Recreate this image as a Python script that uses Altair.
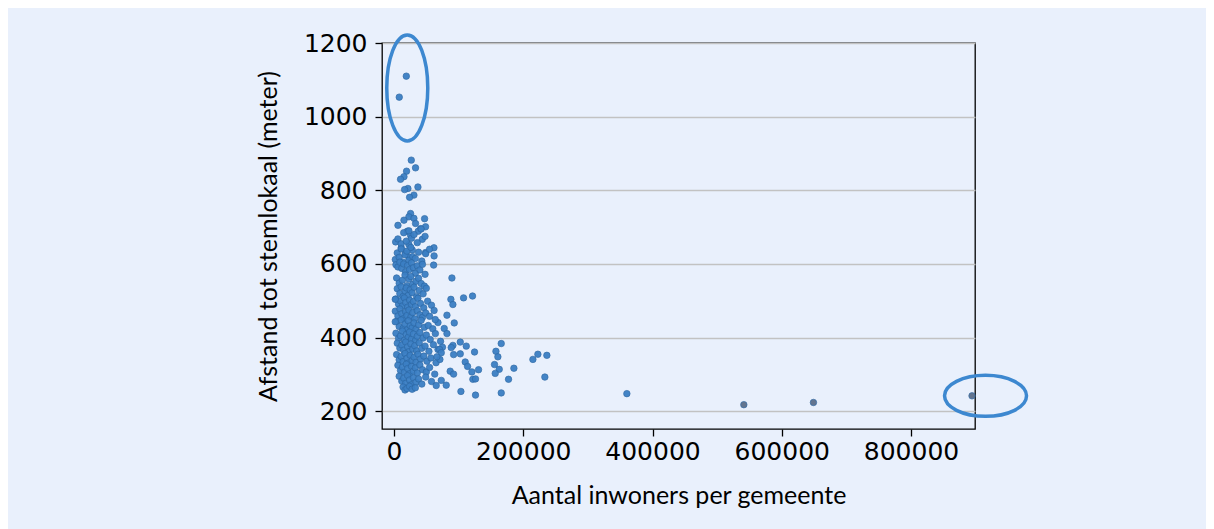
import altair as alt
import pandas as pd

# population (inhabitants) and distance to polling station (meter)
pop_k = [
    # outliers top
    8.1, 19.0,
    # upper scattered
    26.7, 33.3, 19.4, 15.4, 10.1, 37.0, 21.5, 16.4, 30.8, 24.1,
    25.6, 23.0, 30.8, 47.3, 15.4, 33.3, 6.1, 48.8, 41.1, 20.5, 37.5, 25.6,
    2.5, 43.7, 23.0, 11.2, 61.8, 28.2, 48.8, 17.9, 23.0,
    # band 650-700
    6, 11, 15, 19, 23, 27, 31, 36, 42, 48,
    # band 600-650
    2, 5, 8, 11, 14, 17, 20, 23, 26, 29, 33, 38, 43, 49, 55, 62,
    # band 570-600
    3, 6, 9, 12, 15, 18, 21, 24, 27, 30, 33, 36, 40, 44, 48,
    # band 540-570
    4, 8, 13, 17, 20, 23, 26, 29, 34, 38, 42, 47,
    # band 510-540
    5, 9, 11, 14, 17, 19, 22, 25, 28, 31, 35, 39, 45, 50,
    # band 480-510
    3, 7, 10, 13, 16, 18, 21, 24, 27, 30, 33, 37, 41, 46, 52, 58,
    # band 450-480
    2, 6, 9, 12, 15, 18, 20, 23, 26, 29, 32, 36, 40, 44, 49, 55, 62,
    # band 420-450
    4, 8, 11, 14, 17, 20, 22, 25, 28, 31, 34, 38, 42, 47, 53, 60, 68,
    # band 390-420
    3, 7, 10, 13, 16, 19, 22, 24, 27, 30, 33, 36, 40, 45, 50, 56, 64, 72,
    # band 360-390
    5, 9, 12, 15, 18, 21, 23, 26, 29, 32, 35, 39, 43, 48, 54, 61, 68, 75,
    # band 330-360
    4, 8, 11, 14, 17, 20, 22, 25, 28, 31, 34, 37, 41, 46, 51, 57, 65, 71,
    # band 300-330
    6, 10, 13, 16, 19, 21, 24, 27, 30, 33, 36, 40, 44, 50, 55, 63,
    # band 270-300
    8, 12, 15, 18, 21, 24, 27, 30, 34, 38, 43, 49, 58,
    # band 255-270
    14, 17, 20, 24, 28, 33,
    # scattered right of the core
    61.3, 89.6, 1.9, 88.0, 91.1, 107.6, 121.5, 1.9, 81.9, 93.2, 63.8, 77.7, 81.9,
    102.5, 91.1, 88.5, 111.8, 165.9, 92.2, 102.5, 124.6, 157.7, 160.7, 214.9,
    222.6, 236.5, 70.5, 73.1, 66.4, 110.2, 113.8, 86.9, 92.2, 130.8, 120.5,
    155.5, 162.8, 156.6, 185.5, 122.0, 126.1, 177.2, 233.4, 73.1, 65.3, 80.8,
    103.5, 126.1, 165.9,
    # large municipalities
    360.3, 541.3, 649.0, 894.4,
]
dist = [
    1053, 1110,
    882, 861, 852, 837, 830, 809, 805, 802, 787, 781,
    737, 728, 724, 723, 719, 710, 705, 701, 696, 689, 689, 678,
    660, 667, 653, 644, 644, 638, 631, 629, 619,
    668, 655, 685, 662, 690, 670, 680, 658, 695, 675,
    612, 630, 618, 641, 605, 625, 635, 610, 645, 620, 615, 632, 608, 628, 640, 622,
    598, 592, 605, 588, 600, 579, 596, 585, 603, 590, 575, 595, 584, 599, 572,
    562, 548, 556, 570, 541, 559, 566, 545, 553, 561, 547, 540,
    533, 520, 538, 512, 527, 535, 515, 530, 522, 537, 511, 528, 519, 534,
    505, 491, 500, 486, 508, 495, 483, 502, 490, 498, 484, 507, 493, 481, 499, 488,
    472, 459, 478, 465, 452, 470, 460, 475, 456, 468, 451, 473, 462, 455, 467, 458, 474,
    444, 430, 448, 425, 437, 421, 446, 432, 427, 440, 423, 435, 447, 428, 433, 424, 441,
    412, 398, 405, 418, 393, 409, 401, 415, 396, 410, 392, 404, 414, 399, 407, 395, 411, 390,
    385, 372, 380, 366, 388, 375, 362, 383, 369, 378, 364, 386, 371, 377, 363, 381, 368, 374,
    354, 340, 349, 335, 357, 344, 331, 352, 338, 347, 333, 355, 342, 350, 336, 345, 332, 341,
    325, 311, 320, 306, 328, 316, 302, 322, 309, 318, 304, 326, 313, 307, 319, 301,
    295, 282, 290, 276, 297, 285, 272, 291, 279, 288, 274, 293, 281,
    266, 258, 262, 268, 260, 264,
    597, 562, 504, 504, 490, 508, 513, 443, 461, 440, 449, 425, 411,
    388, 379, 373, 377, 384, 354, 356, 361, 363, 348, 341,
    355, 352, 368, 359, 348, 334, 322, 309, 301, 313, 307,
    327, 314, 303, 317, 287, 288, 287, 293, 284, 270, 271,
    254, 244, 250,
    248, 218, 224, 242,
]
groot = {541.3, 649.0, 894.4}
groep = ["groot" if p in groot else "klein" for p in pop_k]

x_ticks = [0, 200000, 400000, 600000, 800000]
y_ticks = [200, 400, 600, 800, 1000, 1200]

df = pd.DataFrame({
    "inwoners": [round(p * 1000) for p in pop_k],
    "afstand": dist,
    "groep": groep,
})

# annotation ellipses (centre in data units)
ell = pd.DataFrame({
    "inwoners": [20500, 915300],
    "afstand": [1078, 242],
    "vorm": ["staand", "liggend"],
})

BG = "#E9F0FC"
xscale = alt.Scale(domain=[-18600, 899000], nice=False, zero=False)
yscale = alt.Scale(domain=[152, 1200], nice=False, zero=False)

xenc = alt.X("inwoners:Q", scale=xscale,
             axis=alt.Axis(title="Aantal inwoners per gemeente", values=x_ticks,
                           format="d", grid=False, titleY=66,
                           titleBaseline="middle"))
yenc = alt.Y("afstand:Q", scale=yscale,
             axis=alt.Axis(title="Afstand tot stemlokaal (meter)", values=y_ticks,
                           format="d", grid=True, titleX=-114, titleY=193,
                           titleAngle=270, titleAlign="center",
                           titleBaseline="middle"))

points = alt.Chart(df).mark_circle(size=42, opacity=0.95, stroke="#2c67a3",
                                   strokeWidth=0.7).encode(
    x=xenc,
    y=yenc,
    color=alt.Color("groep:N", scale=alt.Scale(domain=["klein", "groot"],
                                               range=["#3b7fc4", "#5d6f8a"]),
                    legend=None),
)

p_staand = "M -0.387 0 A 0.387 1 0 1 0 0.387 0 A 0.387 1 0 1 0 -0.387 0 Z"
p_liggend = "M -1 0 A 1 0.5 0 1 0 1 0 A 1 0.5 0 1 0 -1 0 Z"

e1 = alt.Chart(ell[ell.vorm == "staand"]).mark_point(
    shape=p_staand, size=11236, filled=False, stroke="#3d88d0", strokeWidth=3.5,
    opacity=1).encode(x="inwoners:Q", y="afstand:Q")
e2 = alt.Chart(ell[ell.vorm == "liggend"]).mark_point(
    shape=p_liggend, size=6724, filled=False, stroke="#3d88d0", strokeWidth=3.5,
    opacity=1).encode(x="inwoners:Q", y="afstand:Q")

chart = alt.layer(points, e1, e2).properties(
    width=593, height=386,
    background=BG,
    padding={"left": 374, "top": 35, "right": 231, "bottom": 100},
    autosize=alt.AutoSizeParams(type="none"),
).configure_view(
    fill=BG, stroke="#000000", strokeWidth=1.3
).configure_axis(
    labelFont="DejaVu Sans", labelFontSize=25, labelColor="#000000",
    titleFont="Lato", titleFontSize=25, titleFontWeight="normal", titleColor="#000000",
    domain=False, tickColor="#000000", tickWidth=1.3, tickSize=7,
    gridColor="#c2c2c2", gridWidth=1.6,
).configure_axisX(labelPadding=3).configure_axisY(labelPadding=8)

chart.save("out.html", embed_options={"renderer": "svg", "actions": False})
